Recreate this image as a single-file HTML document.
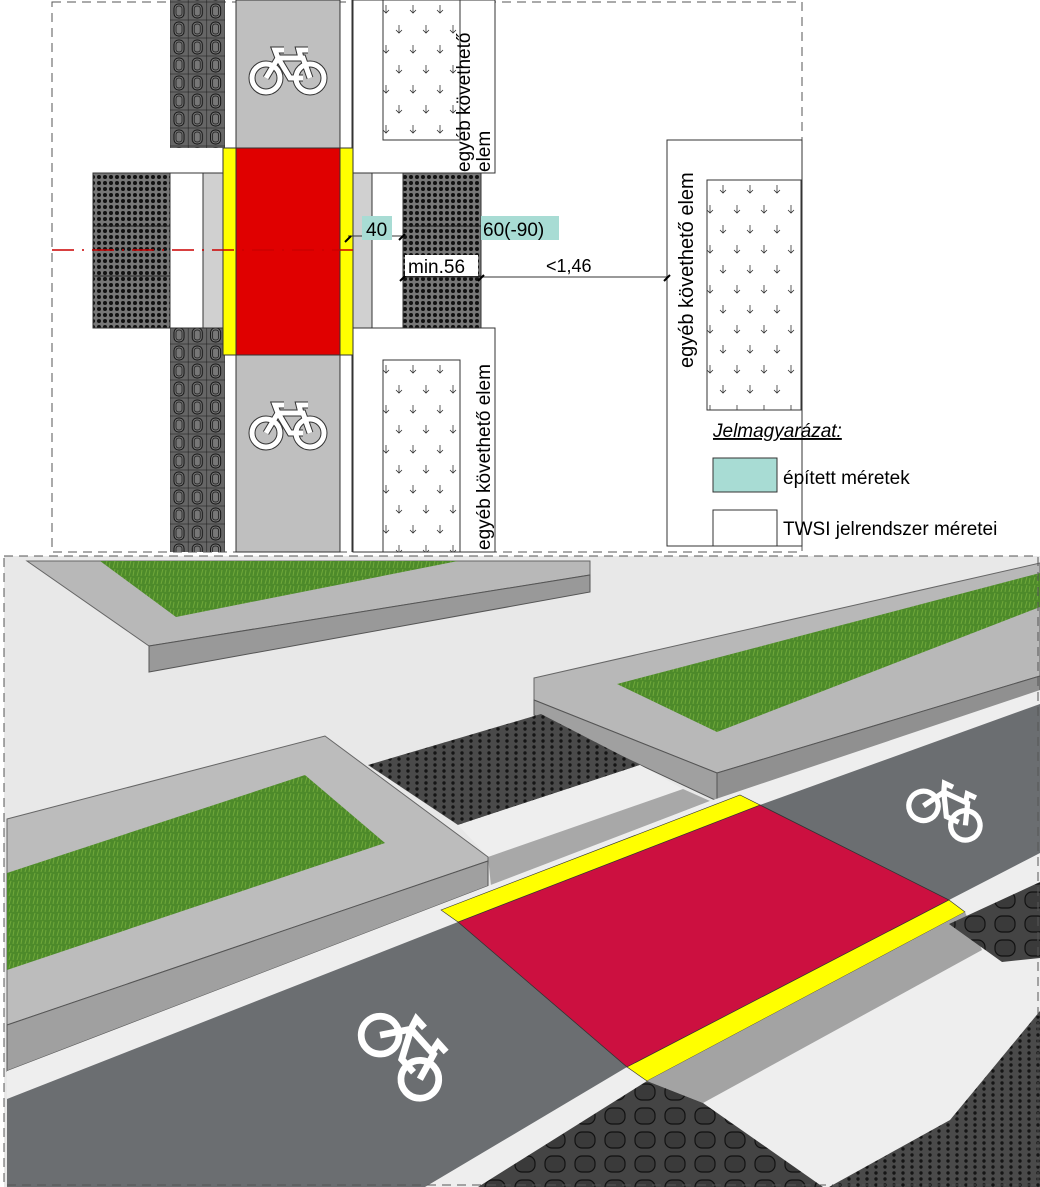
<!DOCTYPE html>
<html><head><meta charset="utf-8"><style>
html,body{margin:0;padding:0;background:#fff}
svg{display:block}
text{font-family:"Liberation Sans",sans-serif}
</style></head><body>
<svg width="1040" height="1187" viewBox="0 0 1040 1187" xmlns="http://www.w3.org/2000/svg">
<defs>
<pattern id="dots" width="6" height="6" patternUnits="userSpaceOnUse">
<rect width="6" height="6" fill="#777"/><circle cx="3" cy="3" r="2" fill="#111"/>
</pattern>
<pattern id="dots2" width="9" height="6" patternUnits="userSpaceOnUse">
<rect width="9" height="6" fill="#4a4a4a"/><circle cx="3" cy="3" r="1.7" fill="#151515"/>
</pattern>
<pattern id="ovals" width="18.3" height="18" patternUnits="userSpaceOnUse" x="170" y="2">
<rect width="18.3" height="18" fill="#666" stroke="#222" stroke-width="0.6"/>
<rect x="4" y="2" width="10" height="14" rx="4.5" fill="#777" stroke="#111" stroke-width="1"/>
<rect x="6" y="4" width="6" height="10" rx="2.5" fill="none" stroke="#111" stroke-width="0.7"/>
</pattern>
<pattern id="arrows" width="27" height="40" patternUnits="userSpaceOnUse">
<rect width="27" height="40" fill="#fff"/>
<g stroke="#333" stroke-width="0.8" fill="none">
<path d="M8 5v8M5 10l3 3l3-3"/><path d="M21 25v8M18 30l3 3l3-3"/>
</g>
</pattern>
<pattern id="grass" width="8" height="8" patternUnits="userSpaceOnUse">
<rect width="8" height="8" fill="#4d8a2a"/><path d="M1 8L3 1M5 8L6 2" stroke="#6fa83a" stroke-width="1"/>
</pattern>
<pattern id="ovals2" width="30" height="24" patternUnits="userSpaceOnUse">
<rect width="30" height="24" fill="#444"/><rect x="5" y="4" width="20" height="16" rx="7" fill="#3a3a3a" stroke="#111" stroke-width="1.2"/>
</pattern>
<g id="bike" fill="none" stroke="#fff" stroke-width="5">
<circle cx="-22" cy="8" r="14"/><circle cx="22" cy="8" r="14"/>
<path d="M-22 8L-10-12H15L22 8M-10-12L2 8H15M-10-12L-13-20H-4M13-12L11-20H20"/>
</g>
<g id="bikeo" fill="none" stroke="#333" stroke-width="7"><circle cx="-22" cy="8" r="14"/><circle cx="22" cy="8" r="14"/><path d="M-22 8L-10-12H15L22 8M-10-12L2 8H15M-10-12L-13-20H-4M13-12L11-20H20"/></g>
</defs>

<!-- ===== TOP PLAN ===== -->
<rect x="52" y="2" width="750" height="550" fill="#fff" stroke="#555" stroke-dasharray="9 6"/>
<rect x="170" y="0" width="55" height="148" fill="url(#ovals)"/>
<rect x="170" y="328" width="55" height="224" fill="url(#ovals)"/>
<rect x="236" y="0" width="104" height="148" fill="#bfbfbf" stroke="#333"/>
<rect x="236" y="355" width="104" height="197" fill="#bfbfbf" stroke="#333"/>
<line x1="352" y1="0" x2="352" y2="552" stroke="#333"/>
<use href="#bikeo" transform="translate(288,70)"/><use href="#bike" transform="translate(288,70)"/>
<use href="#bikeo" transform="translate(288,425)"/><use href="#bike" transform="translate(288,425)"/>
<rect x="223" y="148" width="130" height="207" fill="#ffff00" stroke="#333"/>
<rect x="236" y="148" width="104" height="207" fill="#e00000" stroke="#333"/>
<rect x="93" y="173" width="77" height="155" fill="url(#dots)" stroke="#333"/>
<rect x="170" y="173" width="33" height="155" fill="#fff" stroke="#333"/>
<rect x="203" y="173" width="20" height="155" fill="#d0d0d0" stroke="#333"/>
<rect x="353" y="173" width="19" height="155" fill="#d0d0d0" stroke="#333"/>
<rect x="372" y="173" width="31" height="155" fill="#fff" stroke="#333"/>
<rect x="403" y="173" width="78" height="155" fill="url(#dots)" stroke="#333"/>
<line x1="93" y1="226" x2="170" y2="226" stroke="#222"/><line x1="93" y1="276" x2="170" y2="276" stroke="#222"/>
<line x1="403" y1="226" x2="481" y2="226" stroke="#222"/><line x1="403" y1="276" x2="481" y2="276" stroke="#222"/>
<line x1="52" y1="250" x2="353" y2="250" stroke="#c00" stroke-width="1.5" stroke-dasharray="22 8 2 8"/>
<!-- upper box -->
<rect x="353" y="0" width="142" height="173" fill="#fff" stroke="#333"/>
<rect x="383" y="0" width="77" height="140" fill="url(#arrows)" stroke="#333"/>
<text transform="translate(470,172) rotate(-90)" font-size="19">egyéb követhető</text>
<text transform="translate(490,172) rotate(-90)" font-size="19">elem</text>
<!-- lower box -->
<rect x="353" y="328" width="142" height="224" fill="#fff" stroke="#333"/>
<rect x="383" y="360" width="77" height="192" fill="url(#arrows)" stroke="#333"/>
<text transform="translate(490,550) rotate(-90)" font-size="19">egyéb követhető elem</text>
<!-- big right box -->
<rect x="667" y="140" width="135" height="406" fill="#fff" stroke="#333"/>
<rect x="707" y="180" width="94" height="230" fill="url(#arrows)" stroke="#333"/>
<text transform="translate(693,368) rotate(-90)" font-size="20">egyéb követhető elem</text>
<!-- dimensions -->
<line x1="348" y1="236" x2="403" y2="236" stroke="#333"/>
<path d="M345 242l6-6M399 240l6-6" stroke="#000" stroke-width="2"/>
<rect x="362" y="216" width="30" height="24" fill="#a8dcd4"/><text x="366" y="236" font-size="19">40</text>
<rect x="481" y="216" width="78" height="24" fill="#a8dcd4"/><text x="483" y="236" font-size="19">60(-90)</text>
<line x1="403" y1="277" x2="667" y2="277" stroke="#333"/>
<path d="M400 281l6-6M478 281l6-6M664 281l6-6" stroke="#000" stroke-width="2"/>
<rect x="405" y="255" width="73" height="21" fill="#fff"/><text x="408" y="273" font-size="19">min.56</text>
<text x="546" y="272" font-size="18">&lt;1,46</text>
<!-- legend -->
<text x="713" y="437" font-size="19" font-style="italic" text-decoration="underline">Jelmagyarázat:</text>
<rect x="713" y="458" width="64" height="34" fill="#a8dcd4" stroke="#333"/>
<text x="783" y="484" font-size="19">épített méretek</text>
<rect x="713" y="510" width="64" height="36" fill="#fff" stroke="#333"/>
<text x="783" y="535" font-size="19">TWSI jelrendszer méretei</text>

<!-- ===== BOTTOM 3D ===== -->
<rect x="4" y="556" width="1036" height="631" fill="#e8e8e8"/>
<!-- top-left planter -->
<polygon points="27,561 590,561 590,575 149,646" fill="#b8b8b8" stroke="#666"/>
<polygon points="149,646 590,575 590,592 149,672" fill="#999" stroke="#555"/>
<polygon points="100,561 458,561 176,617" fill="url(#grass)"/>
<!-- right planter -->
<polygon points="534,678 1040,563 1040,676 717,773 534,700" fill="#b8b8b8" stroke="#666"/>
<polygon points="534,700 717,773 717,801 534,715" fill="#a0a0a0" stroke="#555"/>
<polygon points="717,773 1040,676 1040,692 717,801" fill="#909090" stroke="#555"/>
<polygon points="617,684 1040,573 1040,607 717,732" fill="url(#grass)"/>
<!-- tactile dots -->
<polygon points="368,765 541,714 640,765 458,825" fill="url(#dots2)"/>
<polygon points="458,825 640,765 683,789 488,857" fill="#eeeeee"/>
<polygon points="488,857 683,789 710,801 491,886" fill="#a8a8a8"/>
<!-- left planter -->
<polygon points="7,819 325,736 488,857 488,861 7,1025" fill="#bcbcbc" stroke="#666"/>
<polygon points="7,1025 488,861 488,886 7,1071" fill="#a0a0a0" stroke="#555"/>
<polygon points="7,873 305,775 385,843 7,970" fill="url(#grass)"/>
<!-- lane area white background strip -->
<polygon points="7,1071 488,886 710,801 1040,690 1040,1187 7,1187" fill="#eeeeee"/>
<!-- left lane -->
<polygon points="7,1099 458,922 627,1067 425,1187 7,1187" fill="#6b6e71"/>
<!-- right lane -->
<polygon points="760,805 1040,704 1040,853 949,900" fill="#6b6e71"/>
<!-- red crossing -->
<polygon points="458,922 760,805 949,900 627,1067" fill="#cc1040" stroke="#333" stroke-width="0.8"/>
<polygon points="441,910 740,795 760,805 458,922" fill="#ffff00" stroke="#333" stroke-width="0.6"/>
<polygon points="949,900 965,912 647,1081 627,1067" fill="#ffff00" stroke="#333" stroke-width="0.6"/>
<!-- grey strip below crossing -->
<polygon points="647,1081 965,912 982,950 703,1103" fill="#a3a3a3"/>
<!-- ovals bottom -->
<polygon points="478,1187 647,1081 703,1103 823,1187" fill="url(#ovals2)"/>
<polygon points="949,924 1040,882 1040,958 1002,962" fill="url(#ovals2)"/>
<!-- dots bottom right -->
<polygon points="829,1187 950,1120 1040,1011 1040,1187" fill="url(#dots2)"/>
<!-- bike symbols -->
<g transform="translate(408,1050) rotate(48) scale(1.35)"><use href="#bike"/></g>
<g transform="translate(948,808) rotate(25) scale(1.05)"><use href="#bike"/></g>
<rect x="4" y="556" width="1034" height="629" fill="none" stroke="#555" stroke-dasharray="9 6"/>
</svg>
</body></html>
